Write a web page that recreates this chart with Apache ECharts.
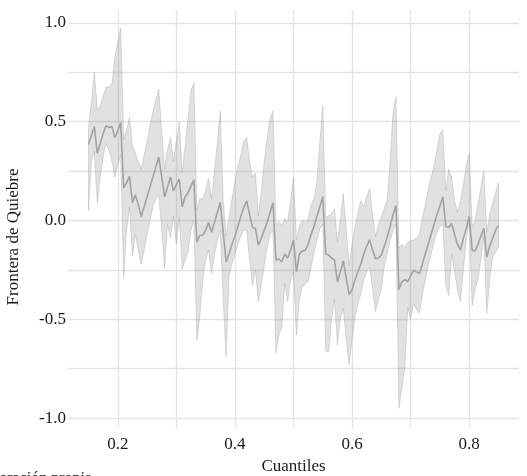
<!DOCTYPE html>
<html>
<head>
<meta charset="utf-8">
<script src="https://cdn.jsdelivr.net/npm/echarts@6/dist/echarts.min.js"></script>
<style>
  html, body { margin: 0; padding: 0; background: #fff; }
  #chart { width: 527px; height: 476px; }
</style>
</head>
<body>
<div id="chart"></div>
<script>
// quantiles (tau grid)
const quantiles = [
  0.150, 0.155, 0.160, 0.165, 0.170, 0.175, 0.180, 0.185, 0.190, 0.195,
  0.200, 0.205, 0.210, 0.215, 0.220, 0.225, 0.230, 0.235, 0.240, 0.245,
  0.250, 0.255, 0.260, 0.265, 0.270, 0.275, 0.280, 0.285, 0.290, 0.295,
  0.300, 0.305, 0.310, 0.315, 0.320, 0.325, 0.330, 0.335, 0.340, 0.345,
  0.350, 0.355, 0.360, 0.365, 0.370, 0.375, 0.380, 0.385, 0.390, 0.395,
  0.400, 0.405, 0.410, 0.415, 0.420, 0.425, 0.430, 0.435, 0.440, 0.445,
  0.450, 0.455, 0.460, 0.465, 0.470, 0.475, 0.480, 0.485, 0.490, 0.495,
  0.500, 0.505, 0.510, 0.515, 0.520, 0.525, 0.530, 0.535, 0.540, 0.545,
  0.550, 0.555, 0.560, 0.565, 0.570, 0.575, 0.580, 0.585, 0.590, 0.595,
  0.600, 0.605, 0.610, 0.615, 0.620, 0.625, 0.630, 0.635, 0.640, 0.645,
  0.650, 0.655, 0.660, 0.665, 0.670, 0.675, 0.680, 0.685, 0.690, 0.695,
  0.700, 0.705, 0.710, 0.715, 0.720, 0.725, 0.730, 0.735, 0.740, 0.745,
  0.750, 0.755, 0.760, 0.765, 0.770, 0.775, 0.780, 0.785, 0.790, 0.795,
  0.800, 0.805, 0.810, 0.815, 0.820, 0.825, 0.830, 0.835, 0.840, 0.845,
  0.850
];

// estimated coefficient
const estimate = [
  0.385, 0.43, 0.475, 0.34, 0.39, 0.44, 0.48, 0.47, 0.475, 0.42,
  0.455, 0.495, 0.165, 0.19, 0.225, 0.09, 0.13, 0.08, 0.02, 0.07,
  0.12, 0.17, 0.22, 0.27, 0.32, 0.22, 0.12, 0.17, 0.22, 0.15,
  0.18, 0.21, 0.07, 0.12, 0.14, 0.175, 0.205, -0.11, -0.075, -0.075,
  -0.05, -0.01, -0.06, -0.01, 0.04, 0.092, -0.06, -0.21, -0.17, -0.12,
  -0.08, -0.03, 0.02, 0.065, 0.10, 0.03, -0.035, -0.04, -0.125, -0.09,
  -0.05, -0.01, 0.04, 0.09, -0.20, -0.195, -0.21, -0.17, -0.19, -0.15,
  -0.10, -0.26, -0.17, -0.155, -0.15, -0.12, -0.07, -0.03, 0.02, 0.07,
  0.12, -0.17, -0.175, -0.19, -0.20, -0.31, -0.26, -0.205, -0.29, -0.375,
  -0.35, -0.30, -0.26, -0.22, -0.17, -0.13, -0.097, -0.15, -0.193, -0.19,
  -0.175, -0.13, -0.085, -0.03, 0.03, 0.076, -0.35, -0.31, -0.30, -0.31,
  -0.28, -0.25, -0.26, -0.27, -0.22, -0.17, -0.12, -0.07, -0.02, 0.03,
  0.075, 0.12, -0.03, -0.035, -0.015, -0.07, -0.12, -0.15, -0.09, -0.04,
  0.02, -0.15, -0.155, -0.12, -0.08, -0.04, -0.185, -0.13, -0.09, -0.05,
  -0.025
];

// upper confidence bound
const upper = [
  0.47, 0.60, 0.75, 0.56, 0.58, 0.63, 0.675, 0.675, 0.69, 0.83,
  0.90, 0.975, 0.41, 0.46, 0.52, 0.38, 0.34, 0.30, 0.26, 0.33,
  0.40, 0.48, 0.55, 0.61, 0.665, 0.45, 0.26, 0.36, 0.42, 0.30,
  0.40, 0.50, 0.24, 0.38, 0.52, 0.66, 0.695, 0.05, 0.11, 0.11,
  0.15, 0.215, 0.11, 0.25, 0.40, 0.554, 0.10, -0.08, 0.02, 0.11,
  0.20, 0.27, 0.33, 0.40, 0.42, 0.30, 0.22, 0.24, 0.02, 0.15,
  0.30, 0.42, 0.52, 0.555, -0.02, -0.005, -0.025, 0.01, -0.01, 0.10,
  0.22, -0.10, -0.03, 0.00, -0.005, 0.01, 0.08, 0.11, 0.20, 0.40,
  0.58, 0.015, 0.025, 0.03, 0.06, -0.11, 0.01, 0.135, -0.05, -0.23,
  -0.12, -0.03, 0.04, 0.10, 0.07, 0.12, 0.16, 0.03, -0.08, -0.02,
  0.02, 0.06, 0.11, 0.30, 0.55, 0.625, -0.14, -0.12, -0.135, -0.11,
  -0.10, -0.10, -0.09, -0.07, 0.01, 0.08, 0.16, 0.22, 0.28, 0.36,
  0.44, 0.457, 0.15, 0.26, 0.22, 0.10, 0.04, 0.10, 0.18, 0.28,
  0.34, -0.03, 0.00, 0.08, 0.17, 0.25, -0.06, 0.03, 0.09, 0.14,
  0.19
];

// lower confidence bound
const lower = [
  0.05, 0.30, 0.35, 0.09, 0.22, 0.32, 0.39, 0.35, 0.30, 0.22,
  0.28, 0.33, -0.29, -0.05, 0.07, -0.18, -0.07, -0.15, -0.22, -0.15,
  -0.07, 0.00, 0.07, 0.11, 0.13, -0.05, -0.24, -0.02, -0.09, 0.02,
  -0.12, 0.02, -0.245, -0.20, -0.16, -0.05, 0.00, -0.605, -0.49, -0.30,
  -0.20, -0.15, -0.27, -0.18, -0.10, -0.05, -0.40, -0.69, -0.28, -0.22,
  -0.17, -0.12, -0.08, -0.05, -0.05, -0.20, -0.33, -0.25, -0.41, -0.32,
  -0.23, -0.14, -0.07, -0.05, -0.67, -0.58, -0.54, -0.32, -0.41, -0.30,
  -0.26, -0.58, -0.40, -0.34, -0.32, -0.31, -0.24, -0.16, -0.10, -0.04,
  -0.02, -0.66, -0.665, -0.50, -0.40, -0.63, -0.50, -0.445, -0.60, -0.73,
  -0.60, -0.49, -0.42, -0.37, -0.30, -0.26, -0.235, -0.35, -0.46, -0.40,
  -0.35, -0.23, -0.17, -0.10, -0.05, -0.02, -0.95, -0.85, -0.75, -0.44,
  -0.50, -0.42, -0.45, -0.47, -0.38, -0.30, -0.23, -0.17, -0.11, -0.06,
  -0.03, -0.02, -0.33, -0.38, -0.17, -0.26, -0.35, -0.41, -0.25, -0.10,
  0.00, -0.43, -0.35, -0.30, -0.19, -0.085, -0.47, -0.30, -0.185, -0.16,
  -0.135
];

const xLabels = [0.2, 0.4, 0.6, 0.8];
const xGrid = [0.2, 0.3, 0.4, 0.5, 0.6, 0.7, 0.8];
const yLabels = [-1, -0.5, 0, 0.5, 1];
const yGrid = [-1, -0.75, -0.5, -0.25, 0, 0.25, 0.5, 0.75, 1];

const font = "'Liberation Serif', 'DejaVu Serif', serif";
const pair = (arr) => quantiles.map((q, i) => [q, arr[i]]);

const chart = echarts.init(document.getElementById('chart'), null, { renderer: 'canvas' });

// confidence ribbon: one polygon, upper edge then lower edge backwards
function renderRibbon(params, api) {
  const pts = [];
  for (let i = 0; i < quantiles.length; i++) {
    pts.push(api.coord([quantiles[i], upper[i]]));
  }
  for (let i = quantiles.length - 1; i >= 0; i--) {
    pts.push(api.coord([quantiles[i], lower[i]]));
  }
  return {
    type: 'polygon',
    shape: { points: pts },
    style: {
      fill: 'rgba(128,128,128,0.24)',
      stroke: 'rgba(150,150,150,0.4)',
      lineWidth: 0.8
    }
  };
}

chart.setOption({
  animation: false,
  backgroundColor: '#ffffff',
  grid: { left: 68, right: 8, top: 10, bottom: 48, outerBoundsMode: 'none' },
  xAxis: {
    type: 'value',
    min: 0.115,
    max: 0.885,
    name: 'Cuantiles',
    nameLocation: 'middle',
    nameGap: 30,
    nameTextStyle: { fontFamily: font, fontSize: 17, color: '#1a1a1a' },
    axisLine: { show: false },
    axisTick: { show: false, customValues: xGrid },
    axisLabel: {
      customValues: xLabels,
      margin: 8,
      fontFamily: font, fontSize: 17, color: '#1a1a1a',
      formatter: (v) => v.toFixed(1)
    },
    splitLine: { show: true, lineStyle: { color: '#e4e4e4', width: 1.4 } }
  },
  yAxis: {
    type: 'value',
    min: -1.05,
    max: 1.065,
    name: 'Frontera de Quiebre',
    nameLocation: 'middle',
    nameGap: 46,
    nameRotate: 90,
    nameTextStyle: { fontFamily: font, fontSize: 17, color: '#1a1a1a', padding: [0, 0, 0, -36] },
    axisLine: { show: false },
    axisTick: { show: false, customValues: yGrid },
    axisLabel: {
      customValues: yLabels,
      margin: 2,
      fontFamily: font, fontSize: 17, color: '#1a1a1a',
      formatter: (v) => v.toFixed(1)
    },
    splitLine: { show: true, lineStyle: { color: '#e4e4e4', width: 1.4 } }
  },
  series: [
    {
      name: 'ribbon',
      type: 'custom',
      data: [[0.5, 0]],
      renderItem: renderRibbon,
      silent: true,
      z: 2
    },
    {
      name: 'estimate',
      type: 'line',
      data: pair(estimate),
      symbol: 'none',
      lineStyle: { color: '#a3a3a3', width: 1.6 },
      z: 5
    }
  ],
  graphic: [
    {
      type: 'text',
      right: 435,
      top: 471,
      style: { text: 'Fuente: Elaboración propia', fontFamily: font, fontSize: 16, fill: '#1a1a1a' }
    }
  ]
});
</script>
</body>
</html>
